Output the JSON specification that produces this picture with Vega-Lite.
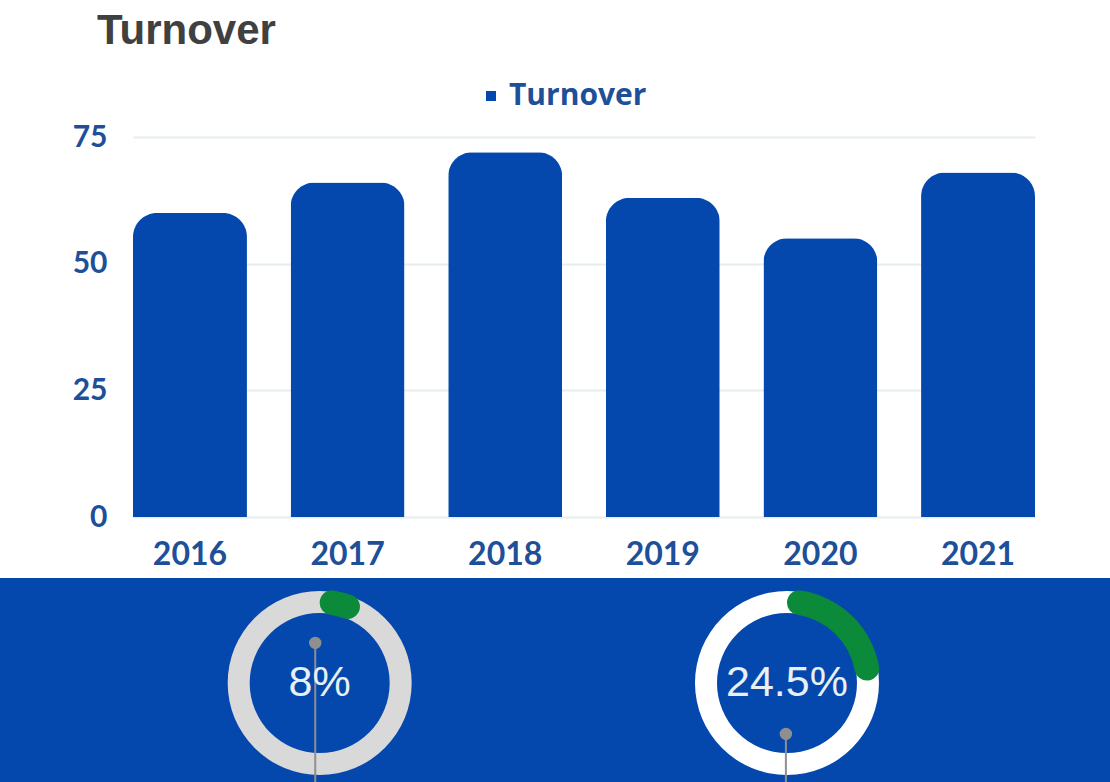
{
  "$schema": "https://vega.github.io/schema/vega-lite/v6.json",
  "padding": {"top": 10, "left": 0, "right": 0, "bottom": 0},
  "background": "#ffffff",
  "spacing": 0,
  "resolve": {"scale": {"x": "independent", "y": "independent", "color": "independent"}, "legend": {"color": "independent"}},
  "vconcat": [
    {
      "width": 1110,
      "height": 380,
      "view": {"stroke": null},
      "title": {
        "text": "Turnover",
        "anchor": "start",
        "frame": "group",
        "dx": 97,
        "font": "Liberation Sans",
        "fontSize": 42,
        "fontWeight": "bold",
        "color": "#404040",
        "offset": 28
      },
      "data": {"values": [
        {"year": "2016", "turnover": 60, "series": "Turnover"},
        {"year": "2017", "turnover": 66, "series": "Turnover"},
        {"year": "2018", "turnover": 72, "series": "Turnover"},
        {"year": "2019", "turnover": 63, "series": "Turnover"},
        {"year": "2020", "turnover": 55, "series": "Turnover"},
        {"year": "2021", "turnover": 68, "series": "Turnover"}
      ]},
      "mark": {"type": "bar", "cornerRadiusTopLeft": 24, "cornerRadiusTopRight": 24},
      "encoding": {
        "x": {
          "field": "year", "type": "ordinal", "title": null,
          "scale": {"range": [133, 1035], "paddingInner": 0.277, "paddingOuter": 0},
          "axis": {"domain": false, "ticks": false, "labelAngle": 0, "labelFont": "Lato", "labelFontWeight": "bold", "labelFontSize": 32, "labelColor": "#1e4f99", "labelPadding": 22, "minExtent": 61, "maxExtent": 61}
        },
        "y": {
          "field": "turnover", "type": "quantitative", "title": null,
          "scale": {"domain": [0, 75], "nice": false},
          "axis": {"values": [0, 25, 50, 75], "offset": -133, "domain": false, "ticks": false, "labelFont": "Lato", "labelFontWeight": "bold", "labelFontSize": 30, "labelColor": "#1e4f99", "labelPadding": 26, "gridColor": "#e6eded", "gridWidth": 2}
        },
        "color": {
          "field": "series", "type": "nominal",
          "scale": {"range": ["#0448ae"]},
          "legend": {"title": null, "orient": "none", "legendX": 476, "legendY": -56, "padding": 0, "symbolType": "square", "symbolSize": 100, "symbolStrokeWidth": 0, "labelOffset": 3, "labelFont": "Open Sans", "labelFontWeight": "bold", "labelFontSize": 30, "labelColor": "#1e4f99"}
        }
      }
    },
    {
      "width": 1110,
      "height": 204,
      "view": {"fill": "#0448ae", "stroke": null},
      "data": {"values": [
        {"donut": "A", "label": "8%", "cx": 2.88, "cy": 0, "share": 8, "full": 100, "dotX": 2.84, "dotY": 0.435, "bottom": -1.076},
        {"donut": "B", "label": "24.5%", "cx": 7.09, "cy": 0, "share": 24.5, "full": 100, "dotX": 7.08, "dotY": -0.554, "bottom": -1.076}
      ]},
      "resolve": {"scale": {"color": "independent"}},
      "layer": [
        {
          "mark": {"type": "arc", "outerRadius": 92, "innerRadius": 70},
          "encoding": {
            "x": {"field": "cx", "type": "quantitative", "scale": {"domain": [0, 10], "nice": false, "zero": false}, "axis": null},
            "y": {"field": "cy", "type": "quantitative", "scale": {"domain": [-1.076, 1.141], "nice": false, "zero": false}, "axis": null},
            "theta": {"field": "full", "type": "quantitative", "stack": null, "scale": {"domain": [0, 100]}},
            "theta2": {"datum": 0},
            "color": {"field": "donut", "type": "nominal", "scale": {"domain": ["A", "B"], "range": ["#d9d9d9", "#ffffff"]}, "legend": null}
          }
        },
        {
          "mark": {"type": "arc", "outerRadius": 93.5, "innerRadius": 69, "cornerRadius": 12, "color": "#0b8a3a"},
          "encoding": {
            "x": {"field": "cx", "type": "quantitative"},
            "y": {"field": "cy", "type": "quantitative"},
            "theta": {"field": "share", "type": "quantitative", "stack": null},
            "theta2": {"datum": 0}
          }
        },
        {
          "mark": {"type": "rule", "color": "#8f8f8f", "strokeWidth": 2},
          "encoding": {
            "x": {"field": "dotX", "type": "quantitative"},
            "y": {"field": "dotY", "type": "quantitative"},
            "y2": {"field": "bottom"}
          }
        },
        {
          "mark": {"type": "circle", "color": "#8f8f8f", "opacity": 1, "size": 154},
          "encoding": {
            "x": {"field": "dotX", "type": "quantitative"},
            "y": {"field": "dotY", "type": "quantitative"}
          }
        },
        {
          "mark": {"type": "text", "font": "Liberation Sans", "fontSize": 43, "color": "#e8f0f2", "baseline": "middle", "align": "center"},
          "encoding": {
            "x": {"field": "cx", "type": "quantitative"},
            "y": {"field": "cy", "type": "quantitative"},
            "text": {"field": "label"}
          }
        }
      ]
    }
  ]
}
